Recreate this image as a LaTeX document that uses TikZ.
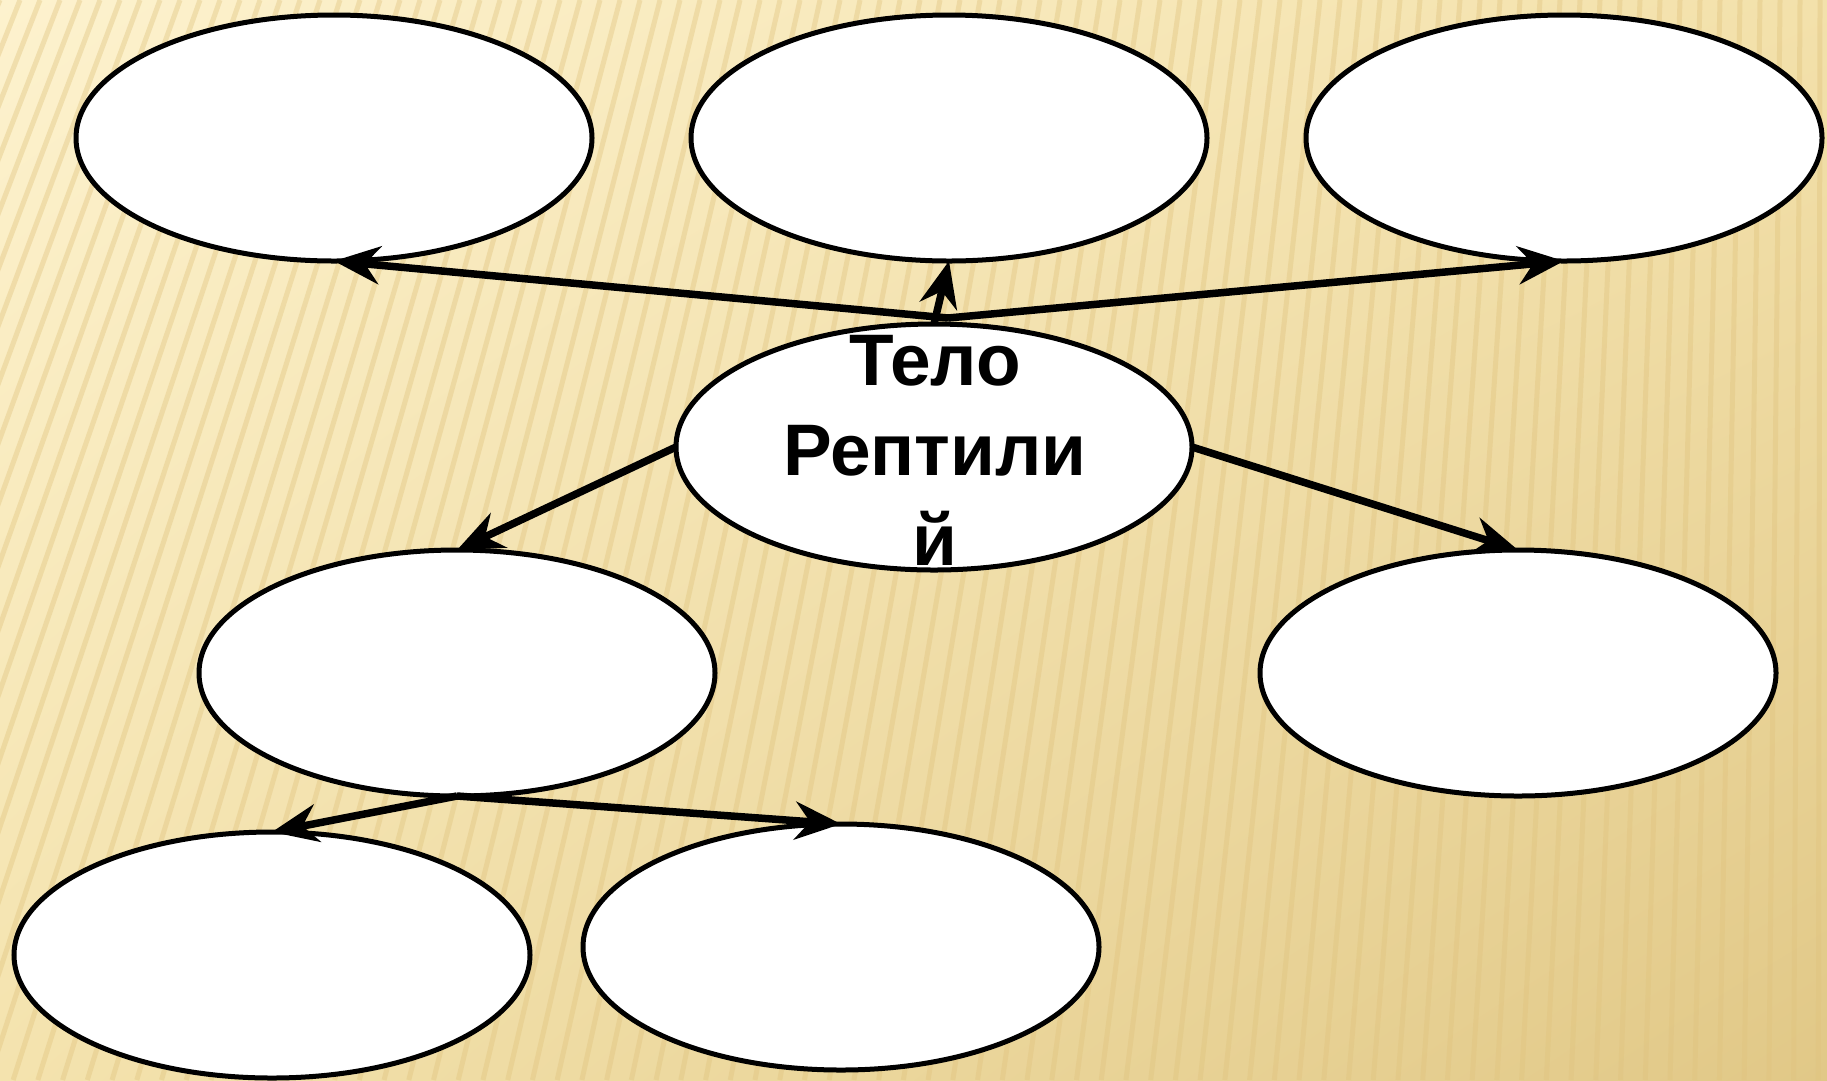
\documentclass[tikz,border=0pt]{standalone}
\usepackage{fontspec}
\setmainfont{Liberation Sans}
\usetikzlibrary{shapes.geometric,arrows.meta,shadings}
\definecolor{bgA}{HTML}{FDF2CE}
\definecolor{bgB}{HTML}{F3E1AB}
\definecolor{bgC}{HTML}{F4E3AE}
\definecolor{bgD}{HTML}{E1C887}
\definecolor{stripecol}{HTML}{E0C37E}
\begin{document}
\begin{tikzpicture}[x=1pt,y=-1pt,
  oval/.style={ellipse, draw=black, line width=5pt, fill=white,
    minimum width=516pt, minimum height=246pt, inner sep=0pt, outer sep=0pt},
  conn/.style={line width=7.5pt, -{Stealth[length=46pt,width=38pt,inset=15pt]}},
  stripe/.style={draw=stripecol, line width=5pt, opacity=0.4},
  title/.style={font=\fontsize{73}{90}\selectfont\bfseries, align=center, inner sep=0pt}]
\useasboundingbox (0,0) rectangle (1827,1080);
\shade[upper left=bgA, upper right=bgB, lower left=bgC, lower right=bgD] (0,0) rectangle (1827,1080);
\begin{scope}
  \clip (0,0) rectangle (1827,1080);
  \foreach \x in {-80,-60,...,1860} {
    \draw[stripe] (\x,0) -- ({\x-0.4*(1-\x/1827)*1080},1080);
  }
\end{scope}
% ovals
\node[oval] (tl) at (334,138) {};
\node[oval] (tm) at (949,138) {};
\node[oval] (tr) at (1564,138) {};
\node[oval] (c) at (934,447) {};
\node[oval] (ml) at (457,673) {};
\node[oval] (mr) at (1518,673) {};
\node[oval] (bl) at (272,955) {};
\node[oval] (bm) at (841,947) {};
% connectors
\coordinate (hub) at (948,318);
\draw[conn] (hub) -- (tl.south);
\draw[conn] (hub) -- (tr.south);
\draw[conn] (c.north) -- (tm.south);
\draw[conn] (c.west) -- (ml.north);
\draw[conn] (c.east) -- (mr.north);
\draw[conn] (ml.south) -- (bl.north);
\draw[conn] (ml.south) -- (bm.north);
% title
\node[title] (t) at (935,450) {Тело\\Рептили\\й};
\end{tikzpicture}
\end{document}
